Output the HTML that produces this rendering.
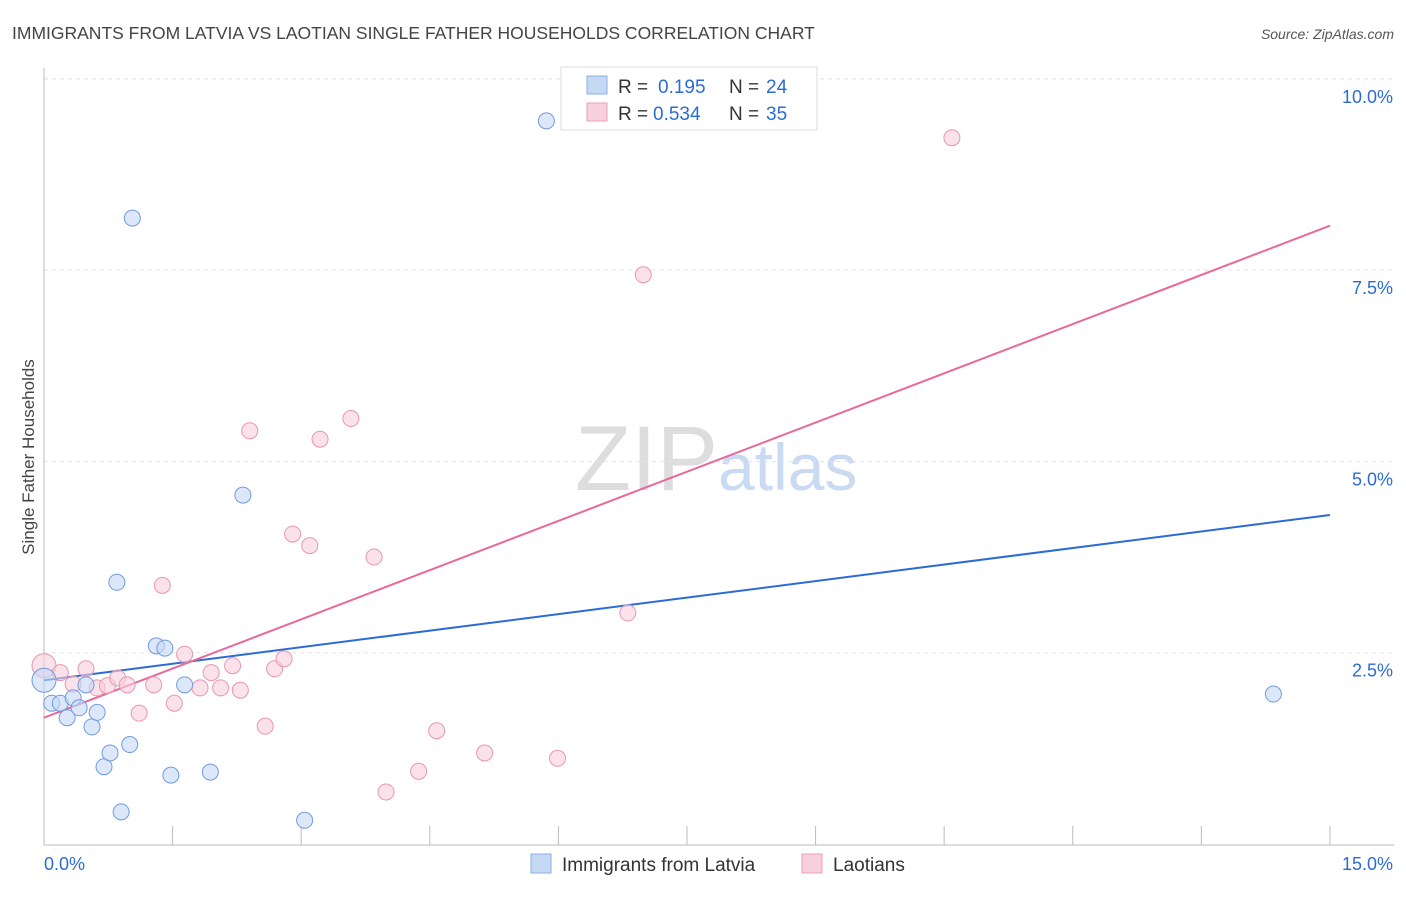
<!DOCTYPE html>
<html><head><meta charset="utf-8"><style>
body{margin:0;background:#fff;font-family:"Liberation Sans",sans-serif}
svg text{font-family:"Liberation Sans",sans-serif}
</style></head><body>
<svg id="chart" width="1406" height="892" xmlns="http://www.w3.org/2000/svg">
<text x="12" y="39" font-size="17.5" fill="#444">IMMIGRANTS FROM LATVIA VS LAOTIAN SINGLE FATHER HOUSEHOLDS CORRELATION CHART</text>
<text x="1394" y="39" font-size="14" fill="#555" font-style="italic" text-anchor="end">Source: ZipAtlas.com</text>
<text x="718" y="490" font-size="92" fill="#ddd" text-anchor="end" font-family="Liberation Serif">ZIP</text>
<text x="718" y="490" font-size="66" fill="#c9daf2">atlas</text>
<text transform="translate(34,457) rotate(-90)" font-size="17" fill="#444" text-anchor="middle">Single Father Households</text>
<g id="grid"></g><g id="axes"></g><g id="lines"></g><g id="points"></g>
<g>
<rect x="561" y="67" width="256" height="63" fill="#fff" stroke="#ddd"/>
<rect x="587" y="76" width="20" height="18" fill="#c5d9f5" stroke="#8ab0e8"/>
<text x="618" y="93" font-size="19" fill="#333">R =</text>
<text x="658" y="93" font-size="19" fill="#2b6cd4">0.195</text>
<text x="729" y="93" font-size="19" fill="#333">N =</text>
<text x="766" y="93" font-size="19" fill="#2b6cd4">24</text>
<rect x="587" y="103" width="20" height="18" fill="#f8cfdc" stroke="#eaa0b8"/>
<text x="618" y="120" font-size="19" fill="#333">R =</text>
<text x="653" y="120" font-size="19" fill="#2b6cd4">0.534</text>
<text x="729" y="120" font-size="19" fill="#333">N =</text>
<text x="766" y="120" font-size="19" fill="#2b6cd4">35</text>
</g>
<g>
<rect x="531" y="854" width="20" height="19" fill="#c5d9f5" stroke="#8ab0e8"/>
<text x="562" y="871" font-size="19" fill="#333">Immigrants from Latvia</text>
<rect x="802" y="854" width="20" height="19" fill="#f8cfdc" stroke="#eaa0b8"/>
<text x="833" y="871" font-size="19" fill="#333">Laotians</text>
</g>
</svg>
<script>
const xTicks=[0,1.5,3,4.5,6,7.5,9,10.5,12,13.5,15];
const yTicks=[2.5,5,7.5,10];
const yTickLabels=["2.5%","5.0%","7.5%","10.0%"];
const latviaX=[0.0,0.09,0.19,0.27,0.34,0.41,0.49,0.56,0.62,0.70,0.77,0.85,0.90,1.00,1.03,1.31,1.41,1.48,1.64,1.94,2.32,3.04,5.86,14.34];
const latviaY=[2.14,1.84,1.84,1.65,1.91,1.78,2.08,1.53,1.72,1.01,1.19,3.42,0.42,1.30,8.18,2.59,2.56,0.90,2.08,0.94,4.56,0.31,9.45,1.96];
const laoX=[0.0,0.19,0.34,0.49,0.62,0.74,0.86,0.97,1.11,1.28,1.38,1.52,1.64,1.82,1.95,2.06,2.20,2.29,2.40,2.58,2.69,2.80,2.90,3.10,3.22,3.58,3.85,3.99,4.37,4.58,5.14,5.99,6.81,6.99,10.59];
const laoY=[2.33,2.24,2.09,2.29,2.04,2.07,2.17,2.08,1.71,2.08,3.38,1.84,2.48,2.04,2.24,2.04,2.33,2.01,5.40,1.54,2.29,2.42,4.05,3.90,5.29,5.56,3.75,0.68,0.95,1.48,1.19,1.12,3.02,7.44,9.23];
const latviaLine=[2.14,4.30];
const laoLine=[1.65,8.08];
const X=v=>44+v*85.73, Y=v=>844-v*76.52;
const NS="http://www.w3.org/2000/svg";
function mk(t,a,p){const e=document.createElementNS(NS,t);for(const k in a)e.setAttribute(k,a[k]);document.getElementById(p).appendChild(e);return e;}
yTicks.forEach((v,i)=>{
 const g=mk("line",{x1:44,x2:1394,y1:Y(v),y2:Y(v),stroke:"#e4e4e4","stroke-dasharray":"4,4"},"grid");
 
 
 const t=mk("text",{x:1393,y:Y(v)+24,"font-size":18,fill:"#2b6cd4","text-anchor":"end"},"axes");
 t.textContent=yTickLabels[i];
 
 
});
const topGrid=mk("line",{x1:44,x2:1394,y1:79,y2:79,stroke:"#e4e4e4","stroke-dasharray":"4,4"},"grid");


const ya=mk("line",{x1:44,x2:44,y1:68,y2:845,stroke:"#bbb"},"axes");


const xa=mk("line",{x1:44,x2:1394,y1:845,y2:845,stroke:"#bbb"},"axes");


xTicks.forEach(v=>{
 const l=mk("line",{x1:X(v),x2:X(v),y1:826,y2:845,stroke:"#bbb"},"axes");
 
 
});
const xl0=mk("text",{x:44,y:870,"font-size":18,fill:"#2b6cd4"},"axes");xl0.textContent="0.0%";


const xl1=mk("text",{x:1393,y:870,"font-size":18,fill:"#2b6cd4","text-anchor":"end"},"axes");xl1.textContent="15.0%";


function drawPts(xs,ys,fill,stroke,name){xs.forEach((x,i)=>{
 const c=mk("circle",{cx:X(x),cy:Y(ys[i]),r:i===0?12:8,fill:fill,stroke:stroke,"stroke-width":1,"fill-opacity":0.6},"points");
 
 
});}
drawPts(laoX,laoY,"#f8cfdc","#e896b0","laotian-point");
drawPts(latviaX,latviaY,"#c5d9f5","#6f9be0","latvia-point");
const bl=mk("line",{x1:X(0),y1:Y(latviaLine[0]),x2:X(15),y2:Y(latviaLine[1]),stroke:"#2b6cd4","stroke-width":2},"lines");


const pl=mk("line",{x1:X(0),y1:Y(laoLine[0]),x2:X(15),y2:Y(laoLine[1]),stroke:"#e8689a","stroke-width":2},"lines");


</script>
</body></html>
